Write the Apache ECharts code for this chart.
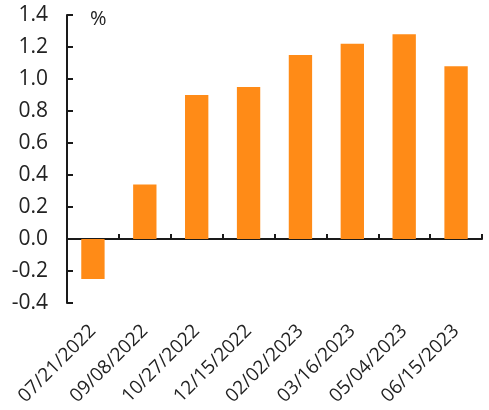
<!DOCTYPE html>
<html>
<head>
<meta charset="utf-8">
<script src="https://cdn.jsdelivr.net/npm/echarts@6/dist/echarts.min.js"></script>
<style>
  html, body { margin: 0; padding: 0; background: #fff; }
  #chart { width: 489px; height: 410px; }
</style>
</head>
<body>
<div id="chart"></div>
<script>
// Meeting dates and the change recorded at each one (%)
const categories = ['07/21/2022', '09/08/2022', '10/27/2022', '12/15/2022',
                    '02/02/2023', '03/16/2023', '05/04/2023', '06/15/2023'];
const values = [-0.25, 0.34, 0.90, 0.95, 1.15, 1.22, 1.28, 1.08];
const unitLabel = '%';

const FONT = '"Open Sans", "DejaVu Sans", sans-serif';
const INK = '#1a1a1a';
const TEXT = '#222';

const chart = echarts.init(document.getElementById('chart'));
chart.setOption({
  animation: false,
  backgroundColor: '#fff',
  grid: { left: 67, right: 7, top: 15, bottom: 107, containLabel: false, outerBoundsMode: 'none' },
  xAxis: {
    type: 'category',
    data: categories,
    axisLine: { onZero: true, lineStyle: { color: INK, width: 2 } },
    axisTick: { show: true, inside: true, length: 5, alignWithLabel: false, lineStyle: { color: INK, width: 2 } },
    axisLabel: {
      rotate: 45, margin: 25, interval: 0,
      fontFamily: FONT, fontSize: 19, color: TEXT
    },
    splitLine: { show: false }
  },
  yAxis: {
    type: 'value',
    min: -0.4, max: 1.4, interval: 0.2,
    axisLine: { show: true, lineStyle: { color: INK, width: 2 } },
    axisTick: { show: true, inside: true, length: 6, lineStyle: { color: INK, width: 2 } },
    axisLabel: {
      margin: 19, fontFamily: FONT, fontSize: 21, color: TEXT,
      formatter: v => v.toFixed(1)
    },
    splitLine: { show: false }
  },
  graphic: [{
    type: 'text', left: 90, top: 9,
    style: { text: unitLabel, font: '20px ' + FONT, fill: TEXT }
  }],
  series: [{
    type: 'bar',
    data: values,
    barWidth: '45%',
    itemStyle: { color: '#FF8B17' }
  }]
});
</script>
</body>
</html>
